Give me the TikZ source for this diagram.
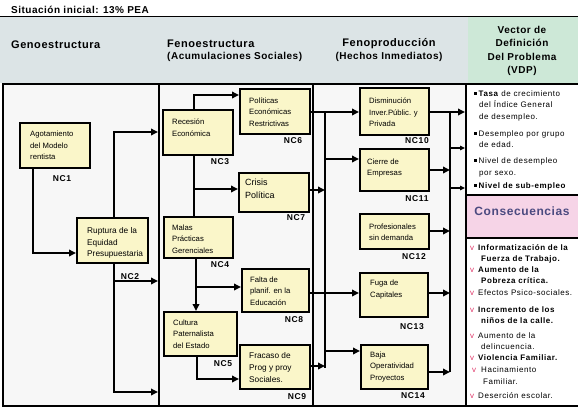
\documentclass[tikz,border=0pt]{standalone}
\usepackage{fontspec}
\setmainfont{Liberation Sans}
\newfontfamily\hfont[LetterSpace=5]{Liberation Sans}
\newfontfamily\labfont[LetterSpace=8]{Liberation Sans}
\newfontfamily\lsfont[LetterSpace=7]{Liberation Sans}
\usetikzlibrary{arrows.meta,calc}
\definecolor{hdr}{HTML}{DCE4E6}
\definecolor{hdrg}{HTML}{CDE8D7}
\definecolor{pinkc}{HTML}{F6D4E7}
\definecolor{boxy}{HTML}{FAF6C9}
\definecolor{bodyg}{HTML}{F7F7F7}
\definecolor{conc}{HTML}{4B4A80}
\definecolor{vred}{HTML}{E0386A}
\newcommand{\sqb}{\makebox[4.5pt][l]{\rule[1.3pt]{2.4pt}{2.4pt}}}
\begin{document}
\begin{tikzpicture}[x=1pt,y=-1pt,
  col/.style={draw, line width=2.2pt, fill=bodyg, inner sep=0pt, anchor=north west},
  ybox/.style={draw, line width=2.4pt, fill=boxy, inner sep=0pt, anchor=north west},
  btxt/.style={font=\fontsize{7.7}{11.5}\selectfont, align=left, inner sep=0pt, anchor=west},
  nclab/.style={font=\labfont\bfseries\fontsize{8.5}{10}\selectfont, inner sep=0pt},
  htitle/.style={font=\hfont\bfseries\fontsize{11}{13}\selectfont, inner sep=0pt},
  hsub/.style={font=\hfont\bfseries\fontsize{10}{13.3}\selectfont, inner sep=0pt},
  conn/.style={line width=2pt, -{Triangle[length=7pt,width=6.5pt]}},
  thinconn/.style={line width=1.1pt, -{Triangle[length=5pt,width=4.5pt]}},
  link/.style={line width=2pt},
  bus/.style={line width=1.1pt},
  vdptxt/.style={font=\lsfont\fontsize{8}{10}\selectfont, inner sep=0pt, anchor=base west},
  vmark/.style={font=\fontsize{8}{10}\selectfont, text=vred, inner sep=0pt, anchor=base west},
]
\useasboundingbox (0,0) rectangle (578,410);
\fill[white] (0,0) rectangle (578,410);

% header band
\fill[hdr] (0,16) rectangle (578,83);
\fill[hdrg] (468,16) rectangle (578,83);
\draw[line width=0.8pt] (0,16) -- (578,16);
\node[hsub, anchor=west, font=\hfont\bfseries\fontsize{10}{12}\selectfont] (title) at (11,10) {Situación inicial: 13\% PEA};
\node[htitle, anchor=west] (h1) at (11,45) {Genoestructura};
\node[htitle, anchor=west] (h2) at (167,44) {Fenoestructura};
\node[hsub, anchor=west] (h2b) at (167,57) {(Acumulaciones Sociales)};
\node[htitle] (h3) at (389,44) {Fenoproducción};
\node[hsub] (h3b) at (389,57) {(Hechos Inmediatos)};
\node[hsub, align=center] (h4) at (522,51) {Vector de\\Definición\\Del Problema\\(VDP)};

% columns
\node[col, minimum width=156pt, minimum height=322pt] (col1) at (2,83) {};
\node[col, minimum width=154pt, minimum height=322pt] (col2) at (158,83) {};
\node[col, minimum width=153pt, minimum height=322pt] (col3) at (312,83) {};
\node[col, fill=white, minimum width=116pt, minimum height=111pt] (vdpA) at (465,83) {};
\node[col, fill=pinkc, minimum width=116pt, minimum height=43pt] (pink) at (465,194) {};
\node[col, fill=white, minimum width=116pt, minimum height=168pt] (vdpB) at (465,237) {};

% boxes
\node[ybox, minimum width=70pt, minimum height=45pt] (nc1) at (19,122) {};
\node[ybox, minimum width=71pt, minimum height=45pt] (nc2) at (76,217) {};
\node[ybox, minimum width=70pt, minimum height=45pt] (nc3) at (162,109) {};
\node[ybox, minimum width=70pt, minimum height=45pt] (nc6) at (239,88) {};
\node[ybox, minimum width=70pt, minimum height=39pt] (nc7) at (238,172) {};
\node[ybox, minimum width=69pt, minimum height=41pt] (nc4) at (163,216) {};
\node[ybox, minimum width=67pt, minimum height=43pt] (nc8) at (241,268) {};
\node[ybox, minimum width=73pt, minimum height=44pt] (nc5) at (163,311) {};
\node[ybox, minimum width=70pt, minimum height=44pt] (nc9) at (239,344) {};
\node[ybox, minimum width=69pt, minimum height=47pt] (nc10) at (359,87) {};
\node[ybox, minimum width=69pt, minimum height=42pt] (nc11) at (359,148) {};
\node[ybox, minimum width=69pt, minimum height=35pt] (nc12) at (359,213) {};
\node[ybox, minimum width=68pt, minimum height=44pt] (nc13) at (359,272) {};
\node[ybox, minimum width=67pt, minimum height=44pt] (nc14) at (360,344) {};

% box texts
\node[btxt] (t1) at (30,145.5) {Agotamiento\\del Modelo\\rentista};
\node[btxt, font=\fontsize{8.3}{11.5}\selectfont] (t2) at (87,243) {Ruptura de la\\Equidad\\Presupuestaria};
\node[btxt] (t3) at (172,127.5) {Recesión\\Económica};
\node[btxt] (t6) at (249,112) {Políticas\\Económicas\\Restrictivas};
\node[btxt, font=\fontsize{9}{12.5}\selectfont] (t7) at (245,188.6) {Crisis\\Política};
\node[btxt] (t4) at (172,239) {Malas\\Prácticas\\Gerenciales};
\node[btxt] (t8) at (250,291) {Falta de\\planif. en la\\Educación};
\node[btxt] (t5) at (173,334) {Cultura\\Paternalista\\del Estado};
\node[btxt, font=\fontsize{8.3}{11.6}\selectfont] (t9) at (249,367.5) {Fracaso de\\Prog y proy\\Sociales.};
\node[btxt] (t10) at (369,112.3) {Disminución\\Inver.Públic. y\\Privada};
\node[btxt] (t11) at (367,168) {Cierre de\\Empresas};
\node[btxt] (t12) at (369,232) {Profesionales\\sin demanda};
\node[btxt] (t13) at (370,289.7) {Fuga de\\Capitales};
\node[btxt] (t14) at (370,367) {Baja\\Operatividad\\Proyectos};

% labels
\node[nclab] (l1) at (62,179) {NC1};
\node[nclab] (l2) at (130,277) {NC2};
\node[nclab] (l3) at (220,162) {NC3};
\node[nclab] (l6) at (293,141) {NC6};
\node[nclab] (l7) at (296,218) {NC7};
\node[nclab] (l4) at (220,265) {NC4};
\node[nclab] (l8) at (294,320) {NC8};
\node[nclab] (l5) at (223,364) {NC5};
\node[nclab] (l9) at (297,397) {NC9};
\node[nclab] (l10) at (417,141) {NC10};
\node[nclab] (l11) at (417,199) {NC11};
\node[nclab] (l12) at (414,257) {NC12};
\node[nclab] (l13) at (412,327) {NC13};
\node[nclab] (l14) at (413,396) {NC14};

% connectors column 1
\draw[conn] (nc1.south -| 33,0) |- (nc2.west |- 0,253);
\draw[conn] (nc2.north -| 114,0) |- (col2.west |- 0,132);
\draw[conn] (nc2.south -| 114,0) |- (col2.west |- 0,392);
\coordinate (j2) at (114,281);
\draw[conn] (j2) -- (col2.west |- j2);

% connectors column 2
\draw[conn] (nc3.north -| 194,0) |- (nc6.west |- 0,95);
\draw[link] (nc3.south -| 194,0) -- (nc4.north -| 194,0);
\coordinate (j3) at (194,189);
\draw[conn] (j3) -- (nc7.west |- j3);
\draw[conn] (nc4.south -| 196,0) -- (nc5.north -| 196,0);
\coordinate (j4) at (196,287);
\draw[conn] (j4) -- (nc8.west |- j4);
\draw[conn] (nc5.south -| 197,0) |- (nc9.west |- 0,379);

% bus between columns 2 and 3
\coordinate (busA) at (325,112);
\coordinate (busAb) at (325,368);
\draw[bus] (busA) -- (busAb);
\draw[conn] (nc6.east |- busA) -- (nc10.west |- busA);
\coordinate (ja1) at (325,159);
\draw[conn] (ja1) -- (nc11.west |- ja1);
\draw[conn] (nc7.east |- 0,190) -- (busA |- 0,190);
\draw[conn] (nc8.east |- 0,293) -- (nc13.west |- 0,293);
\coordinate (ja2) at (325,351);
\draw[conn] (ja2) -- (nc14.west |- ja2);
\draw[conn] (nc9.east |- 0,366) -- (busA |- 0,366);

% bus between columns 3 and 4
\coordinate (busB) at (450,112);
\coordinate (busBb) at (450,372);
\draw[bus] (busB) -- (busBb);
\draw[conn] (nc10.east |- busB) -- (vdpA.west |- busB);
\coordinate (jb1) at (450,148);
\draw[thinconn] (jb1) -- (vdpA.west |- jb1);
\coordinate (jb2) at (450,188);
\draw[thinconn] (jb2) -- (vdpA.west |- jb2);
\draw[conn] (nc11.east |- 0,170) -- (busB |- 0,170);
\draw[conn] (nc12.east |- 0,231) -- (busB |- 0,231);
\draw[conn] (nc13.east |- 0,293) -- (busB |- 0,293);
\draw[conn] (nc14.east |- 0,372) -- (busB |- 0,372);

% VDP indicators
\foreach \n/\xx/\yy/\t in {
  1/474/96/{\sqb\textbf{Tasa} de crecimiento},
  2/479/107/{del Índice General},
  3/479/119/{de desempleo.},
  4/474/136/{\sqb Desempleo por grupo},
  5/479/147/{de edad.},
  6/474/163/{\sqb Nivel de desempleo},
  7/479/175/{por sexo.},
  8/474/188/{\sqb\textbf{Nivel de sub-empleo}}}
  {\node[vdptxt] (v\n) at (\xx,\yy) {\t};}

\node[font=\hfont\bfseries\fontsize{12}{14}\selectfont, text=conc, inner sep=0pt] (cons) at (522,211) {Consecuencias};

% consequences list
\foreach \n/\xx/\yy/\t in {
  1/478/250/{\textbf{Informatización de la}},
  2/481/261/{\textbf{Fuerza de Trabajo.}},
  3/478/272.5/{\textbf{Aumento de la}},
  4/481/283.5/{\textbf{Pobreza crítica.}},
  5/478/295/{Efectos Psico-sociales.},
  6/478/312/{\textbf{Incremento de los}},
  7/481/323.5/{\textbf{niños de la calle.}},
  8/478/338.5/{Aumento de la},
  9/481/349.5/{delincuencia.},
  10/478/360.5/{\textbf{Violencia Familiar.}},
  11/481/372.5/{Hacinamiento},
  12/483/384/{Familiar.},
  13/478/398/{Deserción escolar.}}
  {\node[vdptxt] (c\n) at (\xx,\yy) {\t};}
\foreach \n/\xx/\yy in {1/470/250, 3/470/272.5, 5/470/295, 6/470/312, 8/470/338.5, 10/470/360.5, 11/472/372.5, 13/470/398}
  {\node[vmark] (m\n) at (\xx,\yy) {v};}
\end{tikzpicture}
\end{document}
